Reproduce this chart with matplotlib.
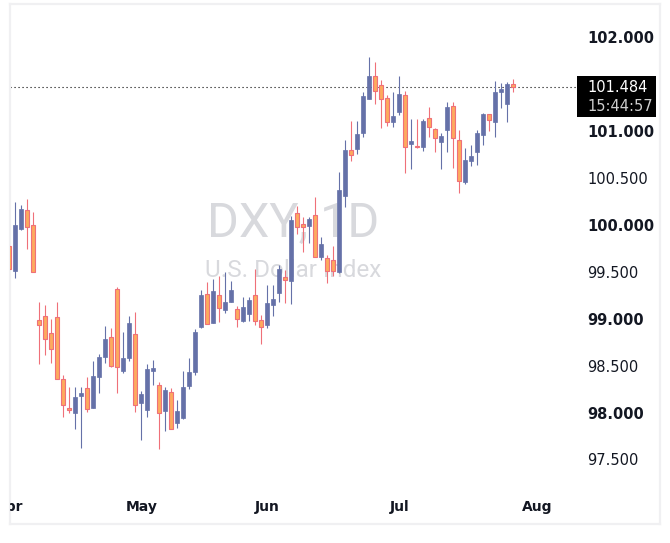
import matplotlib.pyplot as plt
from matplotlib.patches import Rectangle
from matplotlib.transforms import blended_transform_factory

# daily DXY candles, April -> late July
opens = [99.79, 99.53, 99.97, 100.18, 100.02, 99.00, 99.05, 98.87, 99.04, 98.37,
         98.065, 98.01, 98.19, 98.275, 98.06, 98.40, 98.61, 98.82, 99.33, 98.46,
         98.60, 98.85, 98.12, 98.04, 98.46, 98.31, 98.03, 98.24, 97.90, 97.96,
         98.30, 98.45, 98.925, 99.28, 98.97, 99.27, 99.11, 99.20, 99.12, 98.99,
         99.07, 99.27, 99.00, 98.95, 99.16, 99.29, 99.46, 99.42, 100.14, 100.03,
         100.01, 100.12, 99.67, 99.66, 99.64, 99.52, 100.33, 100.82, 100.83, 101.00,
         101.36, 101.605, 101.51, 101.37, 101.12, 101.22, 101.40, 100.88, 100.86, 100.845,
         101.16, 101.04, 100.905, 101.03, 101.29, 100.92, 100.47, 100.70, 100.80, 100.98,
         101.20, 101.12, 101.435, 101.31, 101.52]
highs = [99.83, 100.26, 100.23, 100.29, 100.16, 99.19, 99.16, 99.01, 99.19, 98.42,
         98.29, 98.29, 98.29, 98.40, 98.57, 98.64, 98.94, 98.92, 99.35, 98.875,
         99.05, 99.09, 98.25, 98.53, 98.58, 98.34, 98.29, 98.28, 98.15, 98.46,
         98.60, 98.91, 99.32, 99.41, 99.44, 99.47, 99.51, 99.42, 99.15, 99.25,
         99.25, 99.55, 99.06, 99.38, 99.38, 99.59, 99.54, 100.11, 100.22, 100.10,
         100.105, 100.31, 99.89, 99.70, 99.79, 100.58, 100.92, 101.13, 101.13, 101.43,
         101.81, 101.755, 101.56, 101.40, 101.43, 101.60, 101.44, 101.15, 101.15, 101.15,
         101.27, 101.05, 101.00, 101.33, 101.33, 101.03, 100.84, 100.87, 101.03, 101.21,
         101.20, 101.55, 101.53, 101.54, 101.574]
lows = [99.47, 99.455, 99.96, 99.76, 99.51, 98.53, 98.63, 98.55, 98.37, 97.97,
        98.01, 97.84, 97.64, 98.02, 98.06, 98.22, 98.54, 98.50, 98.22, 98.435,
        98.57, 98.02, 97.72, 97.97, 98.31, 97.63, 97.82, 97.84, 97.855, 97.95,
        98.27, 98.42, 98.92, 98.96, 98.97, 98.98, 99.075, 99.19, 98.93, 98.98,
        98.99, 98.95, 98.75, 98.92, 99.05, 99.20, 99.18, 99.17, 99.92, 99.73,
        99.82, 99.67, 99.64, 99.395, 99.47, 99.50, 100.21, 100.70, 100.77, 100.96,
        101.36, 101.31, 101.05, 101.07, 101.06, 101.19, 100.57, 100.61, 100.835, 100.81,
        100.95, 100.80, 100.61, 100.80, 100.62, 100.36, 100.45, 100.65, 100.66, 100.87,
        101.02, 100.95, 101.26, 101.115, 101.435]
closes = [99.55, 100.02, 100.19, 99.99, 99.51, 98.95, 98.80, 98.69, 98.37, 98.10,
          98.045, 98.18, 98.225, 98.05, 98.41, 98.61, 98.80, 98.51, 98.50, 98.60,
          98.97, 98.10, 98.21, 98.48, 98.495, 98.01, 98.26, 97.84, 98.03, 98.29,
          98.45, 98.875, 99.27, 98.96, 99.31, 99.13, 99.19, 99.32, 99.01, 99.14,
          99.22, 98.99, 98.93, 99.185, 99.23, 99.55, 99.43, 100.07, 100.00, 99.99,
          100.08, 99.67, 99.81, 99.53, 99.53, 100.39, 100.82, 100.76, 100.99, 101.39,
          101.60, 101.44, 101.36, 101.11, 101.18, 101.41, 100.845, 100.91, 100.85, 101.13,
          101.065, 100.94, 100.966, 101.275, 100.94, 100.49, 100.71, 100.75, 101.00, 101.20,
          101.14, 101.435, 101.467, 101.52, 101.484]

month_pos = [0, 22, 43, 65, 88]
month_names = ["Apr", "May", "Jun", "Jul", "Aug"]
price_ticks = [102.0, 101.0, 100.5, 100.0, 99.5, 99.0, 98.5, 98.0, 97.5]
last_time = "15:44:57"

up_col = "#6571a8"
down_fill = "#fdaa5e"
down_edge = "#ef7079"

fig = plt.figure(figsize=(6.7, 5.43), dpi=100)
ax = fig.add_axes([10 / 670, 19 / 543, 650 / 670, 520 / 543])
ax.set_xlim(0.117, 108.45)
ax.set_ylim(96.828, 102.373)
ax.set_xticks([])
ax.set_yticks([])
for s in ax.spines.values():
    s.set_color("#f0f0f2")
    s.set_linewidth(1.6)

# watermark
ax.text(0.435, 0.577, "DXY, 1D", transform=ax.transAxes, ha="center", va="center",
        fontsize=35, color="#d8d9dd", family="Roboto", zorder=0)
ax.text(0.435, 0.488, "U.S. Dollar Index", transform=ax.transAxes, ha="center", va="center",
        fontsize=17.5, color="#d8d9dd", family="Roboto", zorder=0)

# candles
for i in range(len(opens)):
    o, h, l, c = opens[i], highs[i], lows[i], closes[i]
    up = c >= o
    wick = up_col if up else down_edge
    ax.vlines(i, l, h, color=wick, lw=0.8, zorder=2)
    body = max(abs(c - o), 0.012)
    if up:
        ax.bar(i, body, bottom=min(o, c), width=0.68, color=up_col, edgecolor=up_col,
               linewidth=0.5, zorder=3)
    else:
        ax.bar(i, body, bottom=min(o, c), width=0.68, color=down_fill, edgecolor=down_edge,
               linewidth=0.8, zorder=3)

# last price line
last = closes[-1]
ax.axhline(last, xmin=0, xmax=0.871, color="black", lw=0.8, linestyle=(0, (1, 2.6)), zorder=1)

# price scale labels
yt = blended_transform_factory(ax.transAxes, ax.transData)
for p in price_ticks:
    ax.text(0.8877, p, f"{p:.3f}", transform=yt, ha="left", va="center", fontsize=10.5,
            color="#131722", fontweight="bold" if p == int(p) else "normal")

# time labels
xt = blended_transform_factory(ax.transData, ax.transAxes)
for pos, name in zip(month_pos, month_names):
    ax.text(pos, 0.0327, name, transform=xt, ha="center", va="center", fontsize=10,
            color="#131722", fontweight="bold", clip_on=True)

# last price tag
ax.add_patch(Rectangle((0.872, last - 0.316), 0.1215, 0.437, transform=yt,
                       facecolor="black", edgecolor="none", zorder=5, clip_on=False))
ax.text(0.8877, last, f"{last:.3f}", transform=yt, ha="left", va="center",
        fontsize=10.5, color="white", zorder=6)
ax.annotate(last_time, xy=(0.8877, last), xycoords=yt, xytext=(0, -14),
            textcoords="offset points", ha="left", va="center",
            fontsize=10.5, color="#cfcfcf", zorder=6)

fig.savefig("out.png", dpi=100, facecolor="white")
